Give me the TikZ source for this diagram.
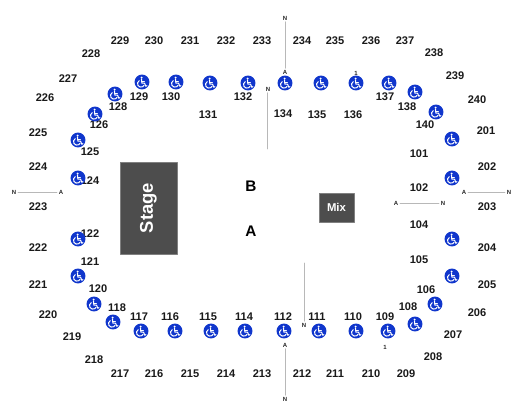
\documentclass[tikz,border=0pt]{standalone}
\usepackage{fontspec}
\setmainfont{Liberation Sans}
\definecolor{wheelblue}{HTML}{1036CC}
\definecolor{blockgray}{HTML}{4D4D4D}
\tikzset{
	seclabel/.style={font=\bfseries\fontsize{8.3}{9}\selectfont,text=black!90,inner sep=0pt},
	aislelabel/.style={font=\bfseries\fontsize{4.5}{5}\selectfont,text=black!85,inner sep=1.2pt},
	aisleline/.style={line width=0.7pt,color=black!28},
	blocknode/.style={draw=black!50,line width=0.5pt,fill=blockgray,text=white,inner sep=0pt,font=\bfseries},
	wheelnode/.style={circle,fill=wheelblue,minimum size=11.2pt,inner sep=0pt,
		path picture={
			\begin{scope}[shift={(path picture bounding box.center)},white]
				\fill (-0.4,-4.3) circle (1.1);
				\draw[line width=0.8pt,line join=round] (-0.5,-2.8) -- (-0.1,1.2) -- (2.6,1.2) -- (3.7,4.2) -- (4.9,3.7);
				\draw[line width=0.7pt] (-0.4,-0.9) -- (2.4,-0.9);
				\draw[line width=0.75pt] (-2.75,-1.36) arc[start angle=240,end angle=30,radius=3.5];
			\end{scope}
		}},
}
\begin{document}
\begin{tikzpicture}[line cap=round,line join=round,x=0.75pt,y=-0.75pt]
	\useasboundingbox (0,0) rectangle (525,420);
	% sections
	\foreach \lab/\x/\y in {
		229/120/41,230/154/41,231/190/41,232/226/41,233/262/41,234/302/41,235/335/41,236/371/41,237/405/41,
		228/91/54,227/68/79,226/45/98,225/38/133,224/38/167,223/38/207,
		238/434/53,239/455/76,240/477/100,201/486/131,202/487/167,203/487/207,
		222/38/248,221/38/285,220/48/315,219/72/337,218/94/360,
		217/120/374,216/154/374,215/190/374,214/226/374,213/262/374,212/302/374,211/335/374,210/371/374,209/406/374,
		208/433/357,207/453/335,206/477/313,205/487/285,204/487/248,
		129/139/97,130/171/97,128/118/107,126/99/125,125/90/152,124/90/181,122/90/234,131/208/115,132/243/97,
		134/283/114,135/317/115,136/353/115,137/385/97,138/407/107,140/425/125,101/419/154,102/419/188,
		121/90/262,120/98/289,118/117/308,117/139/317,116/170/317,115/208/317,114/244/317,
		112/283/317,111/317/317,110/353/317,109/385/317,108/408/307,106/426/290,105/419/260,104/419/225}
		\node[seclabel] (s\lab) at (\x,\y) {\lab};
	% wheelchair spots
	\foreach \x/\y [count=\i] in {
		142/82,176/82,210/83,248/83,285/83,321/83,356/83,389/83,415/92,436/112,452/139,452/178,
		115/94,95/114,78/140,78/178,
		78/239,78/276,94/304,113/322,141/331,175/331,211/331,245/331,
		284/331,319/331,356/331,388/331,415/324,435/304,452/276,452/239}
		\node[wheelnode] (w\i) at (\x,\y) {};
	% stage and mix
	\node[blocknode,minimum width=42.5pt,minimum height=69pt,font=\bfseries\fontsize{13.8}{14}\selectfont] (stage) at (148.5,208) {\rotatebox{90}{Stage}};
	\node[blocknode,minimum width=26.25pt,minimum height=21.75pt,font=\bfseries\fontsize{8.5}{9}\selectfont] (mix) at (336.5,207.5) {Mix};
	\node[font=\bfseries\fontsize{11.5}{12}\selectfont] (blockB) at (251,186) {B};
	\node[font=\bfseries\fontsize{11.5}{12}\selectfont] (blockA) at (251,231) {A};
	% aisles
	\node[aislelabel] (ntop) at (285,18) {N};
	\node[aislelabel] (atop) at (285,72) {A};
	\draw[aisleline] (ntop) -- (atop);
	\node[aislelabel] (nleft) at (14,192) {N};
	\node[aislelabel] (aleft) at (61,192) {A};
	\draw[aisleline] (nleft) -- (aleft);
	\node[aislelabel] (aright) at (464,192) {A};
	\node[aislelabel] (nright) at (509,192) {N};
	\draw[aisleline] (aright) -- (nright);
	\node[aislelabel] (amix) at (396,203) {A};
	\node[aislelabel] (nmix) at (443,203) {N};
	\draw[aisleline] (amix) -- (nmix);
	\node[aislelabel] (abot) at (285,345) {A};
	\node[aislelabel] (nbot) at (285,399) {N};
	\draw[aisleline] (abot) -- (nbot);
	\node[aislelabel] (ninner) at (268,89) {N};
	\coordinate (einner) at (267,149);
	\draw[aisleline] (ninner.south -| einner) -- (einner);
	\node[aislelabel] (nlow) at (304,325) {N};
	\coordinate (elow) at (304,263);
	\draw[aisleline] (nlow) -- (elow);
	\node[aislelabel] (onetop) at (356,73) {1};
	\node[aislelabel] (onebot) at (385,347) {1};
\end{tikzpicture}
\end{document}
